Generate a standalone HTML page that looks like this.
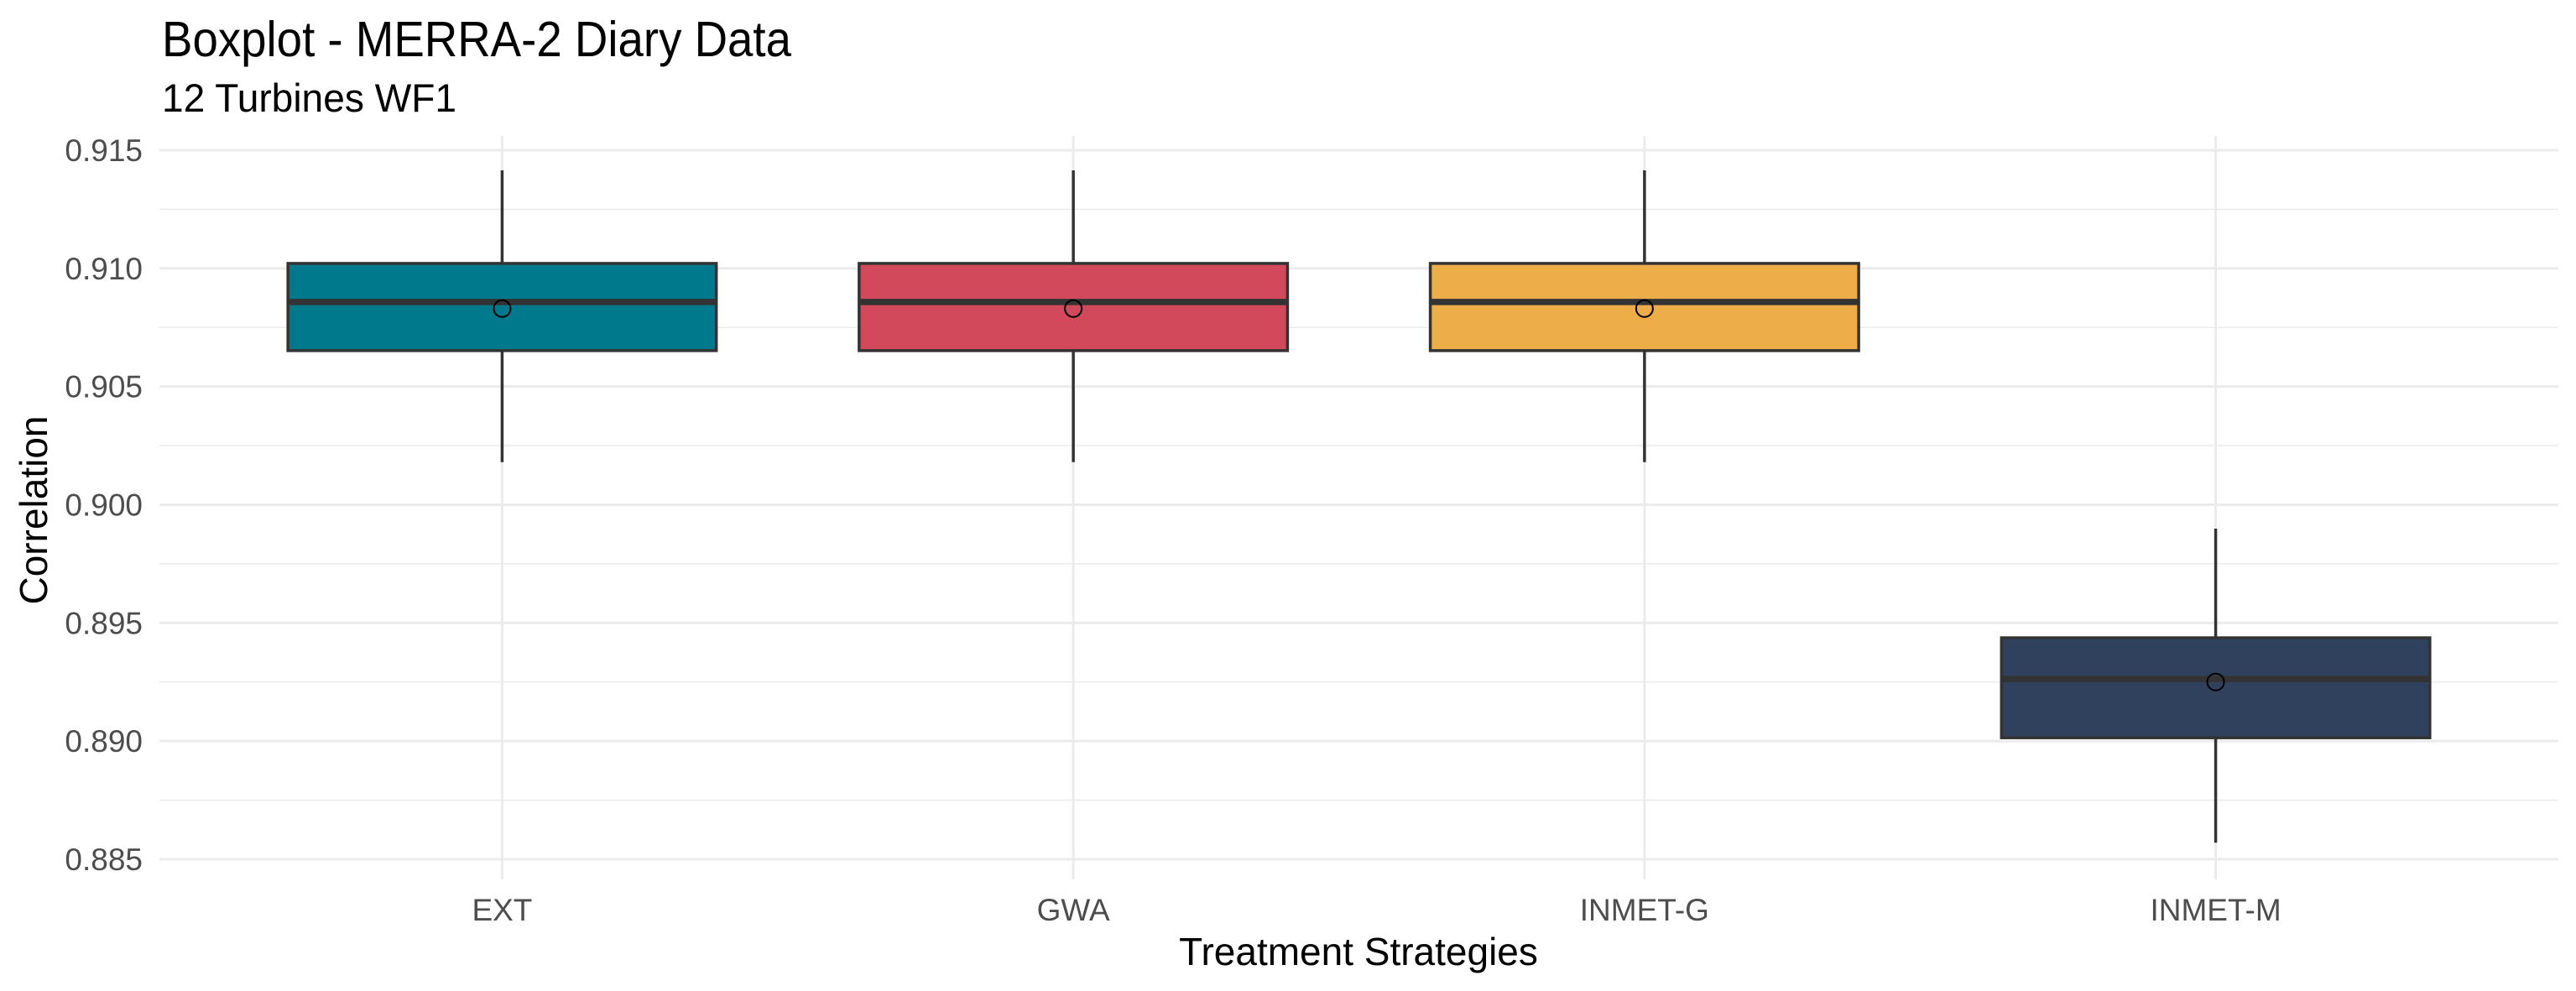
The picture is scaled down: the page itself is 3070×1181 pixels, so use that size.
<!DOCTYPE html>
<html><head><meta charset="utf-8">
<style>
html,body{margin:0;padding:0;background:#fff;}
svg{display:block;font-family:"Liberation Sans",Arial,sans-serif;}
</style></head>
<body>
<svg id="chart" width="3070" height="1181" viewBox="0 0 3070 1181" xmlns="http://www.w3.org/2000/svg">
<rect x="0" y="0" width="3070" height="1181" fill="#fff"/>
<g id="grid"></g>
<g id="boxes"></g>
<g id="axes"></g>
<text x="193" y="67" font-size="59" fill="#000" textLength="750" lengthAdjust="spacingAndGlyphs">Boxplot - MERRA-2 Diary Data</text>
<text x="193" y="133" font-size="47" fill="#000" textLength="351" lengthAdjust="spacingAndGlyphs">12 Turbines WF1</text>
<text transform="translate(56,608) rotate(-90)" text-anchor="middle" font-size="46" fill="#000">Correlation</text>
<text x="1619" y="1150" text-anchor="middle" font-size="46" fill="#000">Treatment Strategies</text>
</svg>
<script>
const categories = ["EXT", "GWA", "INMET-G", "INMET-M"];
const whiskerLow = [0.9018, 0.9018, 0.9018, 0.8857];
const q1 = [0.90652, 0.90652, 0.90652, 0.89014];
const medians = [0.90858, 0.90858, 0.90858, 0.89263];
const q3 = [0.91021, 0.91021, 0.91021, 0.89437];
const whiskerHigh = [0.91415, 0.91415, 0.91415, 0.89899];
const means = [0.9083, 0.9083, 0.9083, 0.8925];
const colors = ["#00798C", "#D1495B", "#EDAE49", "#30415D"];
const yTicks = [0.885, 0.890, 0.895, 0.900, 0.905, 0.910, 0.915];
const yTickLabels = ["0.885", "0.890", "0.895", "0.900", "0.905", "0.910", "0.915"];

const NS = "http://www.w3.org/2000/svg";
const plotL = 190, plotR = 3049, plotT = 162, plotB = 1048;
const yMin = 0.885, yMax = 0.915, yPixMin = 1024, yPixMax = 179;
function yScale(v){ return yPixMin + (v - yMin) / (yMax - yMin) * (yPixMax - yPixMin); }
const n = categories.length;
const step = (plotR - plotL) / (n - 1 + 1.2);
function xScale(i){ return plotL + step * (0.6 + i); }
const halfW = step * 0.375;

function mk(tag, attrs, parent){
  const e = document.createElementNS(NS, tag);
  for (const k in attrs) e.setAttribute(k, attrs[k]);
  parent.appendChild(e);
  return e;
}
const grid = document.getElementById('grid');
const boxes = document.getElementById('boxes');
const axes = document.getElementById('axes');

for (let i = 0; i < yTicks.length - 1; i++) {
  const y = yScale((yTicks[i] + yTicks[i+1]) / 2);
  const l = mk('line', {x1: plotL, x2: plotR, y1: y, y2: y, stroke: '#ebebeb', 'stroke-width': 1.6}, grid);
  
  
}
yTicks.forEach((t, i) => {
  const y = yScale(t);
  const l = mk('line', {x1: plotL, x2: plotR, y1: y, y2: y, stroke: '#ebebeb', 'stroke-width': 3}, grid);
  
  
  const tx = mk('text', {x: 170, y: y + 13, 'text-anchor': 'end', 'font-size': 37, fill: '#4d4d4d'}, axes);
  tx.textContent = yTickLabels[i];
  
  
});
categories.forEach((c, i) => {
  const x = xScale(i);
  const l = mk('line', {x1: x, x2: x, y1: plotT, y2: plotB, stroke: '#ebebeb', 'stroke-width': 3}, grid);
  
  
  const tx = mk('text', {x: x, y: 1097, 'text-anchor': 'middle', 'font-size': 37, fill: '#4d4d4d'}, axes);
  tx.textContent = c;
  
  

  const g = mk('g', {}, boxes);
  
  
  const w1 = mk('line', {x1: x, x2: x, y1: yScale(whiskerHigh[i]), y2: yScale(q3[i]), stroke: '#333', 'stroke-width': 3.5}, g);
  
  
  const w2 = mk('line', {x1: x, x2: x, y1: yScale(q1[i]), y2: yScale(whiskerLow[i]), stroke: '#333', 'stroke-width': 3.5}, g);
  
  
  const r = mk('rect', {x: x - halfW, y: yScale(q3[i]), width: halfW * 2, height: yScale(q1[i]) - yScale(q3[i]), fill: colors[i], stroke: '#333', 'stroke-width': 3.5}, g);
  
  
  const m = mk('line', {x1: x - halfW, x2: x + halfW, y1: yScale(medians[i]), y2: yScale(medians[i]), stroke: '#333', 'stroke-width': 7.5}, g);
  
  
  const p = mk('circle', {cx: x, cy: yScale(means[i]), r: 10, fill: 'none', stroke: '#000', 'stroke-width': 2}, g);
  
  
});
</script>
</body></html>
